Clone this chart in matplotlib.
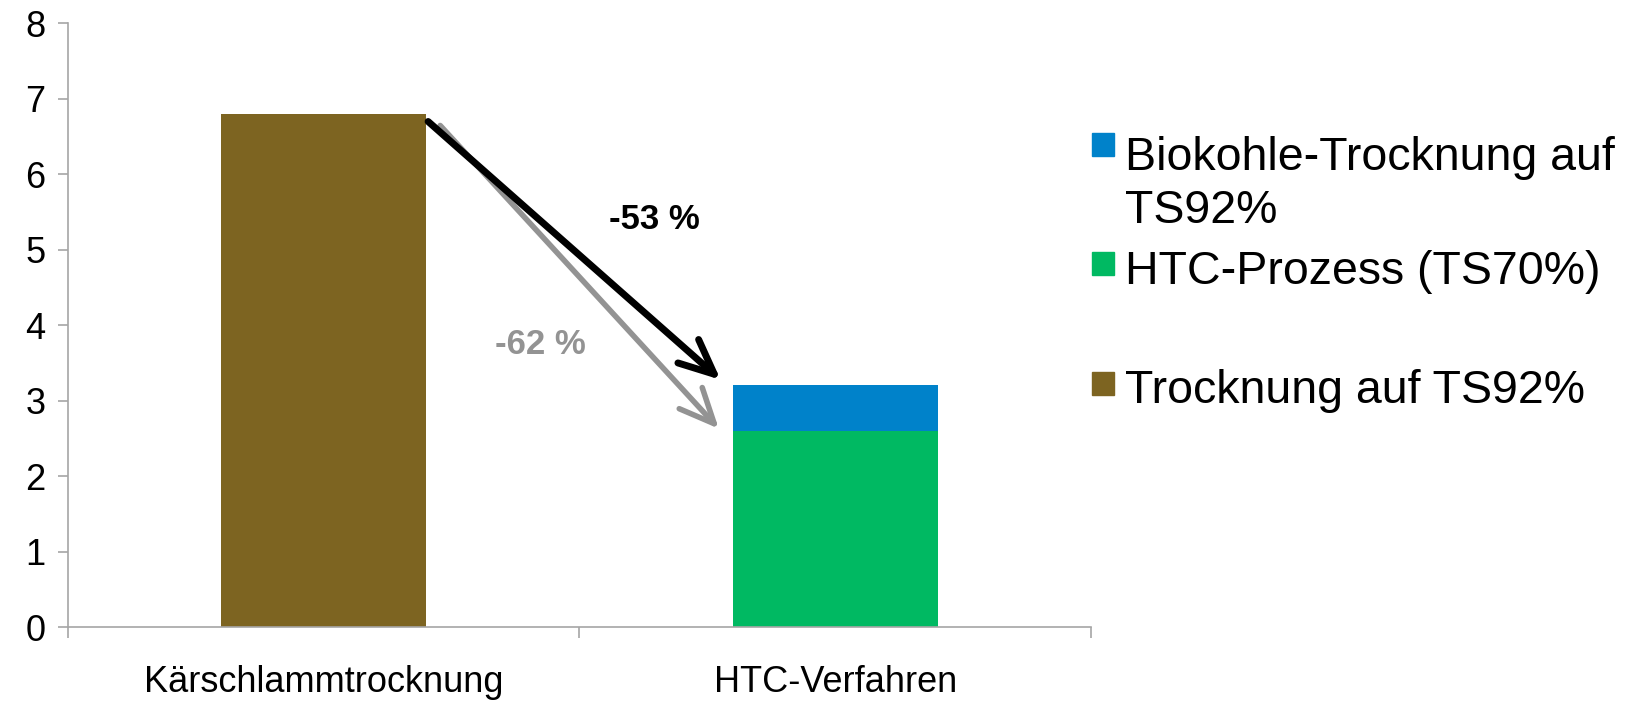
import matplotlib.pyplot as plt
from matplotlib.patches import Rectangle

plt.rcParams['font.family'] = ['Liberation Sans', 'DejaVu Sans']

# energy demand per process route
categories = ['Kärschlammtrocknung', 'HTC-Verfahren']
trocknung = [6.8, 0.0]
htc_prozess = [0.0, 2.6]
biokohle = [0.0, 0.6]

legend_labels = ['Biokohle-Trocknung auf\nTS92%', 'HTC-Prozess (TS70%)', 'Trocknung auf TS92%']

c_brown = '#7d6421'
c_green = '#00b962'
c_blue = '#0082ca'
c_gray = '#939393'
c_axis = '#a6a6a6'

fig = plt.figure(figsize=(16.37, 7.02), dpi=100)
ax = fig.add_axes([0.0415, 0.1068, 0.625, 0.8604])

x = [0, 1]
width = 0.4
ax.bar(x, trocknung, width, color=c_brown)
ax.bar(x, htc_prozess, width, color=c_green)
ax.bar(x, biokohle, width, bottom=htc_prozess, color=c_blue)

ax.set_xlim(-0.5, 1.5)
ax.set_ylim(0, 8)
ax.set_yticks(range(0, 9))
ax.set_xticks(x)
ax.set_xticklabels(categories)
ax.set_xticks([-0.5, 0.5, 1.5], minor=True)
ax.tick_params(axis='x', which='major', length=0, pad=27, labelsize=26)
ax.tick_params(axis='x', which='minor', length=8, width=1.2, color=c_axis)
ax.tick_params(axis='y', length=7, width=1.2, color=c_axis, pad=9, labelsize=26)
for side in ['top', 'right']:
    ax.spines[side].set_visible(False)
for side in ['left', 'bottom']:
    ax.spines[side].set_color(c_axis)
    ax.spines[side].set_linewidth(1.2)

# reduction arrows from the first bar to the second
start = trocknung[0]
total_htc = htc_prozess[1] + biokohle[1]
ax.annotate('', xy=(0.776, htc_prozess[1]), xytext=(0.224, start - 0.13),
            arrowprops=dict(arrowstyle='->,head_length=1.0,head_width=0.45',
                            color=c_gray, lw=4, mutation_scale=25))
ax.annotate('', xy=(0.78, total_htc + 0.05), xytext=(0.2, start - 0.08),
            arrowprops=dict(arrowstyle='->,head_length=1.0,head_width=0.45',
                            color='black', lw=5, mutation_scale=25))

red_total = round((total_htc - start) / start * 100)
red_htc = round((htc_prozess[1] - start) / start * 100)
ax.text(0.647, 5.4, f'{red_total} %', ha='center', va='center',
        fontsize=25, fontweight='bold', color='black')
ax.text(0.424, 3.74, f'{red_htc} %', ha='center', va='center',
        fontsize=25, fontweight='bold', color=c_gray)

# legend entries, placed in pixel positions of the figure
W, H = 1637, 702
line_px = 58  # line height of the legend text in pixels
entries = [(legend_labels[0], c_blue, 133, 165), (legend_labels[1], c_green, 252, 284),
           (legend_labels[2], c_brown, 372, 403)]
for label, color, top, first_base in entries:
    fig.patches.append(Rectangle((1092 / W, 1 - (top + 23) / H), 22 / W, 23 / H,
                                 transform=fig.transFigure, color=color))
    # baseline alignment refers to the last line of a multi-line text
    last_base = first_base + label.count('\n') * line_px
    fig.text(1125 / W, 1 - last_base / H, label, fontsize=33.5, va='baseline',
             ha='left', linespacing=1.25)

fig.savefig('out.png', dpi=100)
